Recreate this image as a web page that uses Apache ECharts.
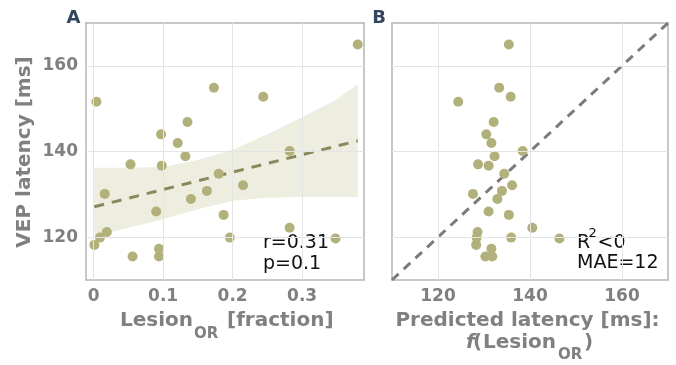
<!DOCTYPE html>
<html><head><meta charset="utf-8">
<script src="https://cdn.jsdelivr.net/npm/echarts@6/dist/echarts.min.js"></script>
<style>html,body{margin:0;padding:0;background:#fff}#c{width:676px;height:365px}</style>
</head><body><div id="c"></div>
<script>
// ---- data ----
const lesionFraction = [0.004,0.001,0.009,0.019,0.016,0.053,0.056,0.090,0.094,0.094,0.097,0.098,0.121,0.132,0.135,0.140,0.163,0.173,0.180,0.187,0.196,0.215,0.244,0.282,0.282,0.348,0.380];
const vepLatency = [151.6,118.2,119.9,121.2,130.1,137.0,115.5,126.0,117.3,115.5,144.0,136.7,142.0,138.9,146.9,128.9,130.8,154.9,134.8,125.2,119.9,132.1,152.8,122.2,140.1,119.7,165.0];
const predictedLatency = [124.4,128.3,128.4,128.6,127.6,128.7,130.3,131.0,131.6,131.8,130.5,131.0,131.6,132.3,132.1,132.9,133.9,133.3,134.4,135.4,135.9,136.1,135.8,140.5,138.4,146.4,135.4];
const fitX = [0.001, 0.380];
const fitY = [127.1, 142.5];
const bandX = [0.001,0.05,0.10,0.15,0.20,0.25,0.30,0.35,0.380];
const bandUpper = [136.2,136.2,136.4,138.0,140.4,144.0,148.0,152.2,155.7];
const bandLower = [120.3,122.2,124.2,126.5,128.5,129.2,129.4,129.4,129.3];
const identityLine = [110, 170];
const xTicksA = [0, 0.1, 0.2, 0.3];
const yTicks = [120, 140, 160];
const xTicksB = [120, 140, 160];
const rangeA = [-0.011, 0.389];
const rangeLatency = [110, 170];

// ---- styles ----
const LABEL = '#808080';
const FONT = 'DejaVu Sans';
const DOT = '#b3b17b';

function mkAxis(gridIndex, position, range, ticks, showLabel) {
  return {
    type: 'value', gridIndex: gridIndex, position: position,
    min: range[0], max: range[1],
    axisLine: {show: true, onZero: false, lineStyle: {color: '#b5b5b5', width: 1.5}},
    axisTick: {show: true, inside: true, length: 4, customValues: ticks, lineStyle: {color: '#a0a0a0', width: 1}},
    axisLabel: {show: showLabel, customValues: ticks, color: LABEL, fontFamily: FONT, fontWeight: 'bold', fontSize: 17, margin: 8},
    splitLine: {show: false}
  };
}

function gridLines(xi, yi, xt, yt) {
  return {
    type: 'line', xAxisIndex: xi, yAxisIndex: yi, data: [], z: 2, silent: true,
    markLine: {
      silent: true, symbol: ['none', 'none'], animation: false,
      label: {show: false},
      lineStyle: {color: '#e4e4e4', width: 1, type: 'solid'},
      emphasis: {disabled: true},
      data: xt.map(v => ({xAxis: v})).concat(yt.map(v => ({yAxis: v})))
    }
  };
}

const bandData = bandX.map((x, i) => [x, bandLower[i], bandUpper[i]]);

function txt(text, x, y, font, fill, align, extra) {
  return Object.assign({
    type: 'text', x: x, y: y, silent: true,
    style: {text: text, font: font, fill: fill, textAlign: align || 'left', verticalAlign: 'middle', textVerticalAlign: 'middle'}
  }, extra || {});
}
const TB = 'bold 20px "DejaVu Sans"';
const TS = 'bold 15px "DejaVu Sans"';
const AN = '19px "DejaVu Sans"';

const chart = echarts.init(document.getElementById('c'), null, {renderer: 'canvas'});
chart.setOption({
  animation: false,
  backgroundColor: '#fff',
  grid: [
    {left: 86, top: 23, width: 278, height: 257},
    {left: 392, top: 23, width: 276, height: 257}
  ],
  xAxis: [
    mkAxis(0, 'bottom', rangeA, xTicksA, true),
    mkAxis(0, 'top', rangeA, xTicksA, false),
    mkAxis(1, 'bottom', rangeLatency, xTicksB, true),
    mkAxis(1, 'top', rangeLatency, xTicksB, false)
  ],
  yAxis: [
    mkAxis(0, 'left', rangeLatency, yTicks, true),
    mkAxis(0, 'right', rangeLatency, yTicks, false),
    mkAxis(1, 'left', rangeLatency, yTicks, false),
    mkAxis(1, 'right', rangeLatency, yTicks, false)
  ],
  series: [
    {
      type: 'custom', xAxisIndex: 0, yAxisIndex: 0, z: 1, silent: true,
      data: bandData,
      renderItem: function (params, api) {
        if (params.dataIndex !== 0) return null;
        const pts = [];
        for (let i = 0; i < bandX.length; i++) pts.push(api.coord([bandX[i], bandUpper[i]]));
        for (let i = bandX.length - 1; i >= 0; i--) pts.push(api.coord([bandX[i], bandLower[i]]));
        return {type: 'polygon', shape: {points: pts}, style: {fill: '#edede0', stroke: null}};
      }
    },
    gridLines(0, 0, xTicksA, yTicks),
    gridLines(2, 2, xTicksB, yTicks),
    {
      type: 'line', xAxisIndex: 0, yAxisIndex: 0, z: 3, silent: true,
      data: fitX.map((x, i) => [x, fitY[i]]),
      showSymbol: false, symbol: 'none',
      lineStyle: {color: '#8a895b', width: 3, type: [10, 8]}
    },
    {
      type: 'line', xAxisIndex: 2, yAxisIndex: 2, z: 3, silent: true,
      data: identityLine.map(v => [v, v]),
      showSymbol: false, symbol: 'none',
      lineStyle: {color: '#7b7b7b', width: 3, type: [9, 7]}
    },
    {
      type: 'scatter', xAxisIndex: 0, yAxisIndex: 0, z: 4,
      data: lesionFraction.map((x, i) => [x, vepLatency[i]]),
      symbolSize: 10, itemStyle: {color: DOT, opacity: 1}
    },
    {
      type: 'scatter', xAxisIndex: 2, yAxisIndex: 2, z: 4,
      data: predictedLatency.map((x, i) => [x, vepLatency[i]]),
      symbolSize: 10, itemStyle: {color: DOT, opacity: 1}
    }
  ],
  graphic: [
    txt('A', 73.5, 18.5, 'bold 18px "DejaVu Sans"', '#34465f', 'center'),
    txt('B', 379, 18.5, 'bold 18px "DejaVu Sans"', '#34465f', 'center'),
    txt('VEP latency [ms]', 24.5, 152, TB, LABEL, 'center', {rotation: Math.PI / 2}),
    txt('Lesion', 120, 321, TB, LABEL),
    txt('OR', 194, 333.8, TS, LABEL),
    txt('[fraction]', 227, 321, TB, LABEL),
    txt('Predicted latency [ms]:', 527.5, 321, TB, LABEL, 'center'),
    txt('f', 466, 342.3, 'italic bold 20px "DejaVu Sans"', LABEL),
    txt('(', 473, 342.3, TB, LABEL),
    txt('Lesion', 483, 342.3, TB, LABEL),
    txt('OR', 558, 354.8, TS, LABEL),
    txt(')', 584, 342.3, TB, LABEL),
    txt('r=0.31', 263, 243.4, AN, '#111'),
    txt('p=0.1', 263, 264, AN, '#111'),
    txt('R', 577, 242.7, AN, '#111'),
    txt('2', 588.5, 234, '13px "DejaVu Sans"', '#111'),
    txt('<0', 597.5, 242.7, AN, '#111'),
    txt('MAE=12', 577, 262.7, AN, '#111')
  ]
});
</script>
</body></html>
